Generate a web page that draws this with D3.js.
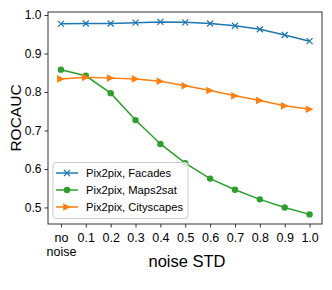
<!DOCTYPE html>
<html><head><meta charset="utf-8">
<script src="https://cdn.jsdelivr.net/npm/d3@7"></script>
<style>body{margin:0;background:#fff;} svg{display:block;} text{font-family:"Liberation Sans",Arial,sans-serif;fill:#000;}</style>
</head><body>
<svg id="c" width="332" height="290"></svg>
<script>
const xValues = [0, 0.1, 0.2, 0.3, 0.4, 0.5, 0.6, 0.7, 0.8, 0.9, 1.0];
const xTickLabels = ["no\nnoise", "0.1", "0.2", "0.3", "0.4", "0.5", "0.6", "0.7", "0.8", "0.9", "1.0"];
const yTicks = [0.5, 0.6, 0.7, 0.8, 0.9, 1.0];
const seriesNames = ["Pix2pix, Facades", "Pix2pix, Maps2sat", "Pix2pix, Cityscapes"];
const facades = [0.977, 0.978, 0.978, 0.980, 0.982, 0.981, 0.978, 0.972, 0.963, 0.948, 0.932];
const maps2sat = [0.858, 0.842, 0.797, 0.727, 0.665, 0.615, 0.575, 0.546, 0.521, 0.500, 0.482];
const cityscapes = [0.834, 0.838, 0.836, 0.834, 0.828, 0.816, 0.804, 0.790, 0.778, 0.764, 0.755];

const colors = ["#1f77b4", "#2ca02c", "#ff7f0e"];
const markers = ["x", "circle", "tri"];
const data = [facades, maps2sat, cityscapes];

const L = 48, R = 322, T = 12, B = 224;
const svg = d3.select("#c");
const x = d3.scaleLinear().domain([-0.052, 1.05]).range([L, R]);
const y = d3.scaleLinear().domain([0.457, 1.0078]).range([B, T]);

// axes
const xAxis = svg.append("g").attr("transform", `translate(0,${B})`)
  .call(d3.axisBottom(x).tickValues(xValues).tickSize(3.5).tickPadding(3).tickFormat(() => ""));
xAxis.select(".domain").remove();
xAxis.selectAll(".tick line").attr("stroke", "#000").attr("stroke-width", 0.8);
xAxis.selectAll(".tick").each(function(d, i) {
  const lines = xTickLabels[i].split("\n");
  const t = d3.select(this).append("text").attr("text-anchor", "middle")
    .attr("font-size", "12.5px").attr("y", 0);
  lines.forEach((ln, k) => t.append("tspan").attr("x", 0).attr("y", 17.7 + k * 14).text(ln));
});

const yAxis = svg.append("g").attr("transform", `translate(${L},0)`)
  .call(d3.axisLeft(y).tickValues(yTicks).tickSize(3.5).tickPadding(3).tickFormat(d3.format(".1f")));
yAxis.select(".domain").remove();
yAxis.selectAll(".tick line").attr("stroke", "#000").attr("stroke-width", 0.8);
yAxis.selectAll(".tick text").attr("font-size", "12px").attr("font-family", "Liberation Sans").attr("fill", "#000");

// frame
svg.append("rect").attr("x", L).attr("y", T).attr("width", R - L).attr("height", B - T)
  .attr("fill", "none").attr("stroke", "#333").attr("stroke-width", 1);

// labels
svg.append("text").attr("x", 187).attr("y", 267).attr("text-anchor", "middle")
  .attr("font-size", "16.5px").text("noise STD");
svg.append("text").attr("transform", `translate(20.5,${(T + B) / 2}) rotate(-90)`)
  .attr("text-anchor", "middle").attr("font-size", "15.5px").text("ROCAUC");

function drawMarker(g, type, color, cx, cy) {
  if (type === "x") {
    const s = 3;
    g.append("path").attr("d", `M${cx - s},${cy - s}L${cx + s},${cy + s}M${cx - s},${cy + s}L${cx + s},${cy - s}`)
      .attr("stroke", color).attr("stroke-width", 1.2).attr("fill", "none");
  } else if (type === "circle") {
    g.append("circle").attr("cx", cx).attr("cy", cy).attr("r", 3.2).attr("fill", color);
  } else {
    const s = 3.8;
    g.append("path").attr("d", `M${cx + s},${cy}L${cx - s},${cy - s}L${cx - s},${cy + s}Z`).attr("fill", color);
  }
}

const line = d3.line().x((d, i) => x(xValues[i])).y(d => y(d));
data.forEach((vals, si) => {
  const g = svg.append("g");
  g.append("path").datum(vals).attr("d", line).attr("fill", "none")
    .attr("stroke", colors[si]).attr("stroke-width", 1.5);
  vals.forEach((v, i) => drawMarker(g, markers[si], colors[si], x(xValues[i]), y(v)));
});

// legend
const lg = svg.append("g");
lg.append("rect").attr("x", 53).attr("y", 162.5).attr("width", 135).attr("height", 56).attr("rx", 3)
  .attr("fill", "#fff").attr("fill-opacity", 0.8).attr("stroke", "#ccc").attr("stroke-width", 1);
[0, 1, 2].forEach((si, k) => {
  const yy = 173 + k * 17;
  lg.append("line").attr("x1", 56).attr("x2", 78).attr("y1", yy).attr("y2", yy)
    .attr("stroke", colors[si]).attr("stroke-width", 1.5);
  drawMarker(lg, markers[si], colors[si], 67, yy);
  lg.append("text").attr("x", 86).attr("y", yy + 4).attr("font-size", "11.2px").text(seriesNames[si]);
});
</script>
</body></html>
